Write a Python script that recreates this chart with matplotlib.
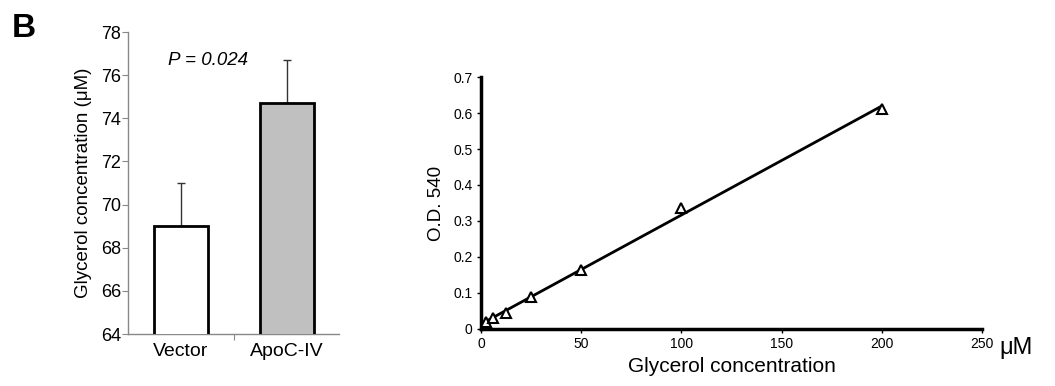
import numpy as np
import matplotlib.pyplot as plt

plt.rcParams["font.family"] = ["Liberation Sans", "DejaVu Sans"]

# left panel: bar chart
groups = ["Vector", "ApoC-IV"]
means = [69.0, 74.7]
err_up = [2.0, 2.0]
bar_colors = ["white", "#c0c0c0"]
p_text = "P = 0.024"

# right panel: standard curve
conc = [2.5, 6.25, 12.5, 25, 50, 100, 200]
od540 = [0.020, 0.031, 0.044, 0.090, 0.164, 0.337, 0.610]

fig = plt.figure(figsize=(10.55, 3.86), dpi=100)

# ---- left panel
ax1 = fig.add_axes([0.1213, 0.1347, 0.2005, 0.7823])
x = np.arange(len(groups))
ax1.bar(x, means, width=0.51, color=bar_colors, edgecolor="black", linewidth=2,
        bottom=0, zorder=3)
ax1.errorbar(x, means, yerr=[[0, 0], err_up], fmt="none", ecolor="#333333",
             elinewidth=1, capsize=3, capthick=1, zorder=2)
ax1.set_xlim(-0.5, 1.5)
ax1.set_ylim(64, 78)
ax1.set_yticks(range(64, 79, 2))
ax1.set_xticks([0.5], minor=False)
ax1.set_xticklabels([""])
for xi, g in zip(x, groups):
    ax1.text(xi, -0.03, g, transform=ax1.get_xaxis_transform(), ha="center",
             va="top", fontsize=14)
ax1.tick_params(axis="y", labelsize=13, length=4, color="#888888", pad=1)
ax1.tick_params(axis="x", length=4, color="#888888")
for s in ["top", "right"]:
    ax1.spines[s].set_visible(False)
for s in ["left", "bottom"]:
    ax1.spines[s].set_color("#888888")
    ax1.spines[s].set_linewidth(1)
ax1.set_ylabel("Glycerol concentration (\u03bcM)", fontsize=13.5, labelpad=6)
ax1.text(0.19, 0.905, p_text, transform=ax1.transAxes, fontsize=13.5,
         style="italic", ha="left", va="center")

# ---- right panel
ax2 = fig.add_axes([0.4559, 0.1477, 0.4749, 0.6528])
slope, icpt = np.polyfit(conc, od540, 1)
xfit = np.array([min(conc), max(conc)])
ax2.plot(xfit, slope * xfit + icpt, color="black", lw=2, zorder=2)
ax2.plot(conc, od540, linestyle="none", marker="^", markersize=6.5,
         markerfacecolor="white", markeredgecolor="black",
         markeredgewidth=1.5, zorder=3)
ax2.set_xlim(0, 250)
ax2.set_ylim(0, 0.7)
ax2.set_xticks(range(0, 251, 50))
ax2.set_yticks(np.arange(0, 0.71, 0.1))
ax2.set_yticklabels(["0"] + [f"{v:.1f}" for v in np.arange(0.1, 0.71, 0.1)])
ax2.tick_params(labelsize=10, length=3, width=1, pad=3)
for s in ["top", "right"]:
    ax2.spines[s].set_visible(False)
for s in ["left", "bottom"]:
    ax2.spines[s].set_linewidth(2.5)
ax2.set_ylabel("O.D. 540", fontsize=13.5, labelpad=6)
ax2.set_xlabel("Glycerol concentration", fontsize=15, labelpad=4)
ax2.text(1.035, -0.03, "\u03bcM", transform=ax2.transAxes, fontsize=17,
         ha="left", va="top")

fig.text(0.011, 0.966, "B", fontsize=24, fontweight="bold", ha="left", va="top")

fig.savefig("out.png", dpi=100)
